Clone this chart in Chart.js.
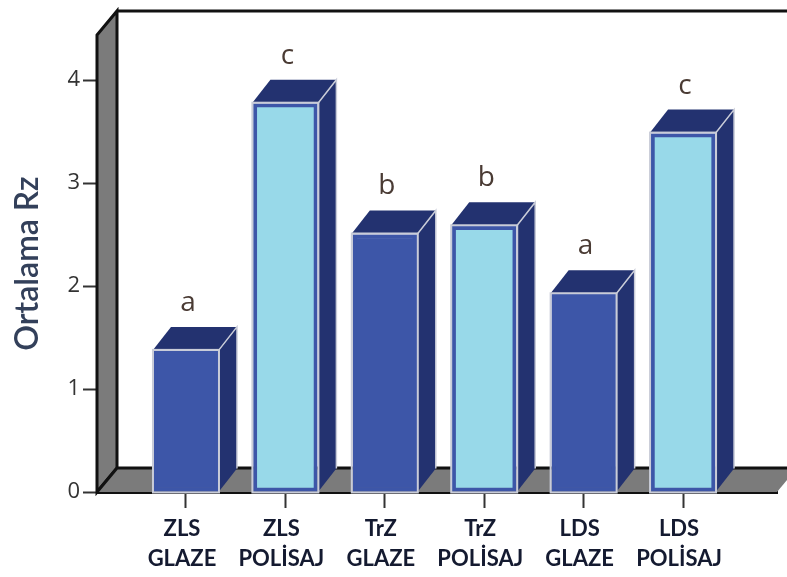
<!DOCTYPE html>
<html>
<head>
<meta charset="utf-8">
<style>
  html, body { margin: 0; padding: 0; background: #fff; }
  canvas { display: block; }
</style>
<script src="https://cdn.jsdelivr.net/npm/chart.js@4"></script>
</head>
<body>
<canvas id="rzChart" width="787" height="577"></canvas>
<script>
const categories = [
  ["ZLS", "GLAZE"],
  ["ZLS", "POLİSAJ"],
  ["TrZ", "GLAZE"],
  ["TrZ", "POLİSAJ"],
  ["LDS", "GLAZE"],
  ["LDS", "POLİSAJ"],
];
const rzValues = [1.37, 3.77, 2.5, 2.58, 1.92, 3.48];
const groupLetters = ["a", "c", "b", "b", "a", "c"];
const yTicks = [0, 1, 2, 3, 4];

const BLUE = "#3d56a8";
const LIGHT = "#98d9e9";
const SIDE = "#233270";
const EDGE = "#c9ccd8";
const WALL = "#7b7b7b";

function poly(ctx, pts, fill, stroke, width) {
  ctx.beginPath();
  pts.forEach((p, i) => (i ? ctx.lineTo(p[0], p[1]) : ctx.moveTo(p[0], p[1])));
  ctx.closePath();
  if (fill) {
    ctx.fillStyle = fill;
    ctx.fill();
  }
  if (stroke) {
    ctx.strokeStyle = stroke;
    ctx.lineWidth = width;
    ctx.stroke();
  }
}

// the box behind the bars: left wall, floor, back edges
const boxPlugin = {
  id: "box",
  beforeDatasetsDraw(chart) {
    const { ctx, chartArea: a } = chart;
    const dx = 20;
    const dy = 24;
    ctx.save();
    ctx.lineJoin = "miter";
    poly(ctx, [[a.left, a.top], [a.left + dx, a.top - dy], [a.left + dx, a.bottom - dy], [a.left, a.bottom]], WALL, "#111", 3);
    poly(ctx, [[a.left, a.bottom], [a.left + dx, a.bottom - dy], [a.right + dx, a.bottom - dy], [a.right, a.bottom]], WALL);
    ctx.strokeStyle = "#111";
    ctx.lineWidth = 3;
    ctx.beginPath();
    ctx.moveTo(a.left, a.bottom);
    ctx.lineTo(a.left + dx, a.bottom - dy);
    ctx.lineTo(a.right + dx, a.bottom - dy);
    ctx.moveTo(a.left + dx, a.top - dy);
    ctx.lineTo(a.right + dx, a.top - dy);
    ctx.stroke();
    ctx.restore();
  },
};

// depth faces of each bar, the pale outline and the group letter on top
const bar3dPlugin = {
  id: "bar3d",
  beforeDatasetsDraw(chart) {
    const { ctx } = chart;
    const dx = 18;
    const dy = 23;
    ctx.save();
    chart.getDatasetMeta(0).data.forEach((bar) => {
      const l = bar.x - bar.width / 2 - 1;
      const r = bar.x + bar.width / 2 + 1;
      const top = bar.y - 1;
      poly(ctx, [[r, top], [r + dx, top - dy], [r + dx, bar.base - dy], [r, bar.base]], SIDE);
      poly(ctx, [[l, top], [l + dx, top - dy], [r + dx, top - dy], [r, top]], SIDE);
      ctx.strokeStyle = EDGE;
      ctx.lineWidth = 1.5;
      ctx.beginPath();
      ctx.moveTo(r, top);
      ctx.lineTo(r + dx, top - dy);
      ctx.lineTo(r + dx, bar.base - dy);
      ctx.stroke();
    });
    ctx.restore();
  },
  afterDatasetsDraw(chart) {
    const { ctx } = chart;
    ctx.save();
    ctx.font = "28px 'Open Sans'";
    ctx.fillStyle = "#4a3b34";
    ctx.textAlign = "center";
    ctx.textBaseline = "middle";
    chart.getDatasetMeta(0).data.forEach((bar, i) => {
      const l = bar.x - bar.width / 2;
      ctx.strokeStyle = EDGE;
      ctx.lineWidth = 2;
      ctx.strokeRect(l - 1, bar.y - 1, bar.width + 2, bar.base - bar.y + 2);
      ctx.fillText(groupLetters[i], bar.x + 2, bar.y - 48);
    });
    ctx.restore();
  },
};

new Chart(document.getElementById("rzChart"), {
  type: "bar",
  data: {
    datasets: [
      {
        label: "Ortalama Rz",
        data: rzValues.map((v, i) => ({ x: i, y: v })),
        backgroundColor: rzValues.map((v, i) => (i % 2 ? LIGHT : BLUE)),
        borderColor: BLUE,
        borderWidth: 4,
        borderSkipped: false,
        barThickness: 64,
      },
    ],
  },
  plugins: [boxPlugin, bar3dPlugin],
  options: {
    responsive: false,
    animation: false,
    layout: { padding: { top: 35, right: 10 } },
    plugins: { legend: { display: false }, tooltip: { enabled: false } },
    scales: {
      x: {
        type: "linear",
        offset: false,
        min: -0.895,
        max: 5.945,
        afterBuildTicks(scale) {
          scale.ticks = categories.map((c, i) => ({ value: i }));
        },
        afterFit(scale) {
          scale.height = 85;
        },
        border: { color: "#111", width: 3 },
        grid: { offset: false, drawOnChartArea: false, tickLength: 16, tickWidth: 2, tickColor: "#333" },
        ticks: {
          autoSkip: false,
          maxRotation: 0,
          labelOffset: -4,
          padding: 6,
          color: "#141a30",
          font: { family: "Lato", size: 22, weight: "bold", lineHeight: 1.36 },
          callback: (v) => categories[v],
        },
      },
      y: {
        min: 0,
        max: 4.437,
        afterBuildTicks(scale) {
          scale.ticks = yTicks.map((v) => ({ value: v }));
        },
        afterFit(scale) {
          scale.width = 97;
        },
        border: { color: "#111", width: 3 },
        grid: { drawOnChartArea: false, tickLength: 14, tickWidth: 2, tickColor: "#333" },
        ticks: {
          padding: 3,
          color: "#333",
          font: { family: "Open Sans", size: 22 },
        },
        title: {
          display: true,
          text: "Ortalama Rz",
          color: "#33405a",
          font: { family: "Lato", size: 32, weight: "600" },
          padding: { top: 8, bottom: 0 },
        },
      },
    },
  },
});
</script>
</body>
</html>
